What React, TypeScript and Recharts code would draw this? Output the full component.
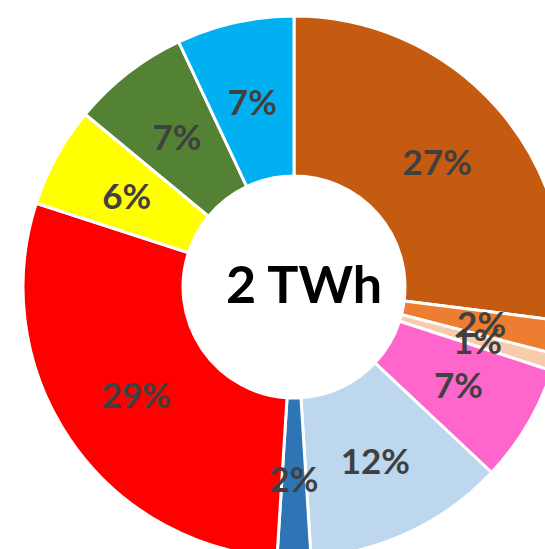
import { PieChart, Pie, Cell, Label } from 'recharts';

const categories = [
  'Brown', 'Orange', 'Peach', 'Pink', 'Light blue',
  'Blue', 'Red', 'Yellow', 'Green', 'Cyan',
];
const shares = [27, 2, 1, 7, 12, 2, 29, 6, 7, 7];
const colors = [
  '#C55A11', '#ED7D31', '#F8CBAD', '#FF66CC', '#BDD7EE',
  '#2E75B6', '#FF0000', '#FFFF00', '#548235', '#00B0F0',
];
const centerText = '2 TWh';

const data = categories.map((name, i) => ({ name, value: shares[i] }));

const RAD = Math.PI / 180;

function renderLabel(props: any) {
  const { cx, cy, midAngle, innerRadius, outerRadius, value } = props;
  const r = (innerRadius + outerRadius) / 2;
  const x = cx + r * Math.cos(-midAngle * RAD);
  const y = cy + r * Math.sin(-midAngle * RAD);
  return (
    <text
      x={x}
      y={y}
      fill="#404040"
      textAnchor="middle"
      dominantBaseline="central"
      fontFamily="Lato"
      fontWeight="bold"
      fontSize={35}
    >
      {`${value}%`}
    </text>
  );
}

export default function App() {
  return (
    <div style={{ position: 'absolute', left: 0, top: 0, width: 545, height: 549, background: '#fff' }}>
      <PieChart width={545} height={549}>
        <Pie
          data={data}
          dataKey="value"
          cx={289}
          cy={282}
          innerRadius={111}
          outerRadius={271}
          startAngle={90}
          endAngle={-270}
          stroke="#fff"
          strokeWidth={3}
          label={renderLabel}
          labelLine={false}
          isAnimationActive={false}
        >
          {data.map((d, i) => (
            <Cell key={d.name} fill={colors[i]} />
          ))}
          <Label
            position="center"
            content={() => (
              <text
                x={304}
                y={283}
                textAnchor="middle"
                dominantBaseline="central"
                fontFamily="Lato"
                fontWeight="bold"
                fontSize={52}
                fill="#000"
              >
                {centerText}
              </text>
            )}
          />
        </Pie>
      </PieChart>
    </div>
  );
}
